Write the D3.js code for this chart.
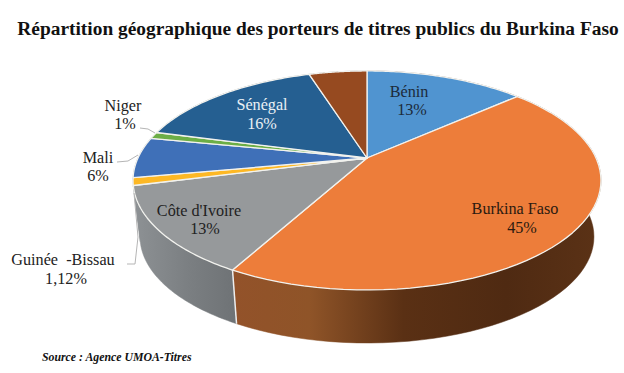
<!DOCTYPE html>
<html><head><meta charset="utf-8">
<script src="https://cdn.jsdelivr.net/npm/d3@7"></script>
<style>html,body{margin:0;background:#fff}svg{display:block}</style></head>
<body><svg id="c" width="624" height="373"></svg>
<script>
const title = "Répartition géographique des porteurs de titres publics du Burkina Faso";
const source = "Source : Agence UMOA-Titres";
const categories = ["Bénin","Burkina Faso","Côte d'Ivoire","Guinée -Bissau","Mali","Niger","Sénégal","Autres"];
const values = [13.4,44.6,13,1.12,6,1,16,4.88];
const topColors = ["#5094d0","#ed7d3a","#96999b","#fdb825","#3f70b8","#6cae46","#255f91","#964a20"];
const labelLines = [["Bénin","13%"],["Burkina Faso","45%"],["Côte d'Ivoire","13%"],["Guinée  -Bissau","1,12%"],["Mali","6%"],["Niger","1%"],["Sénégal","16%"],null];
const labelX = [[409,412],[515,522],[199,205],[63,66],[98,98],[123,125],[262,262],null];
const labelY = [[97,115],[214,233],[216,234],[265,284],[163,181],[111,129],[110,129],null];
const labelFill = ["#1c2a3a","#2b1a10","#222","#222","#222","#222","#eaf0f5","#000"];

const svg = d3.select("#c");
const defs = svg.append("defs");
function grad(id, stops){
  const g = defs.append("linearGradient").attr("id",id).attr("gradientUnits","userSpaceOnUse")
    .attr("x1",132).attr("x2",600).attr("y1",0).attr("y2",0);
  stops.forEach(s=>g.append("stop").attr("offset",s[0]).attr("stop-color",s[1]));
}
grad("gB",[[0,"#a55f30"],[.2,"#93522a"],[.38,"#8f5428"],[.58,"#5a3014"],[.8,"#4f2a12"],[1,"#5b3216"]]);
grad("gC",[[0,"#8e9295"],[.12,"#7b7f82"],[.25,"#6b6f72"]]);

// tilted-disc projection
const cx = 367, cy = 158, bx = 229, ay = 104.9, k = -0.205, depth = 57, shrink = 0.97;
const proj = (ang, r, dy, s) => {
  const u = Math.sin(ang)*r, v = -Math.cos(ang)*r, w = 1 + k*v;
  return [cx + s*bx*u/w, cy + dy + s*ay*v/w];
};
const line = d3.line();
const arcs = d3.pie().sort(null).value(d=>d)(values);
const rim = (a, dy, s) => d3.range(0,61).map(i=>{
  const t = a.startAngle + (a.endAngle-a.startAngle)*i/60;
  return proj(t,1,dy,s);
});
const sides = svg.append("g");
arcs.forEach((a,i)=>{
  const fill = i<=1 ? "url(#gB)" : "url(#gC)";
  const p = rim(a,0,1).concat(rim(a,depth,shrink).reverse());
  sides.append("path").attr("d",line(p)+"Z").attr("fill",fill).attr("stroke",fill).attr("stroke-width",.5);
});
// seam between the two visible walls
const seamA = arcs[1].endAngle;
svg.append("path").attr("d",line([proj(seamA,1,0,1),proj(seamA,1,depth,shrink)]))
  .attr("stroke","#eee").attr("stroke-width",1.5).attr("fill","none");
const faces = svg.append("g");
arcs.forEach((a,i)=>{
  const p = [proj(0,0,0,1)].concat(rim(a,0,1));
  faces.append("path").attr("d",line(p)+"Z").attr("fill",topColors[i])
    .attr("stroke","#f2f2ee").attr("stroke-width",1.3).attr("stroke-linejoin","round");
});
// leader lines
const leaders = [[[140,128],[148,129],[155,133]],[[117,162],[128,161],[138,155]],[[127,264],[135,264],[138,237],[134,193]]];
leaders.forEach(l=>svg.append("path").attr("d",line(l)).attr("fill","none").attr("stroke","#b5b5b5").attr("stroke-width",1));
// labels
labelLines.forEach((l,i)=>{
  if(!l) return;
  const t = svg.append("text").attr("text-anchor","middle").attr("font-family","'Liberation Serif',serif")
    .attr("font-size",16.2).attr("fill",labelFill[i]);
  l.forEach((s,j)=>t.append("tspan").attr("x",labelX[i][j]).attr("y",labelY[i][j]).style("white-space","pre").text(s));
});
svg.append("text").attr("x",318).attr("y",35).attr("text-anchor","middle")
  .attr("font-family","'Liberation Serif',serif").attr("font-weight","bold").attr("font-size",19.4)
  .attr("fill","#111").text(title);
svg.append("text").attr("x",42).attr("y",361).attr("font-family","'Liberation Serif',serif")
  .attr("font-weight","bold").attr("font-style","italic").attr("font-size",11.8).attr("fill","#111").text(source);
</script></body></html>
